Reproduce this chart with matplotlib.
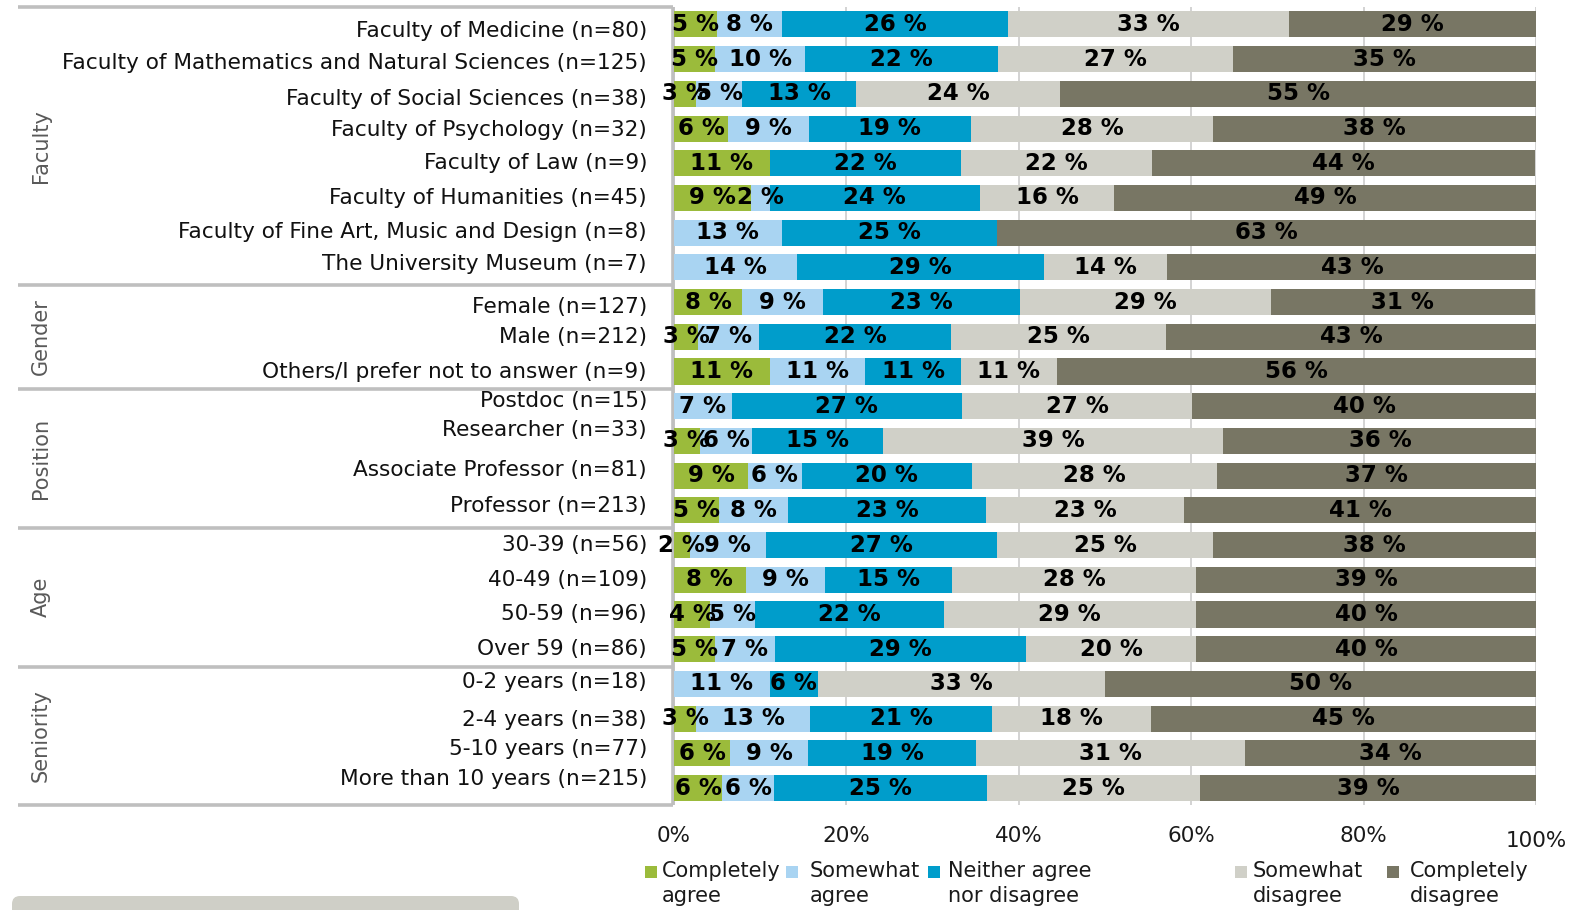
import math
import matplotlib
matplotlib.use("Agg")
import matplotlib.pyplot as plt
import matplotlib.transforms as mtransforms
from matplotlib.patches import Rectangle, FancyBboxPatch

plt.rcParams['font.family'] = ['DejaVu Sans']

# ---------------------------------------------------------------- data
groups = ["Faculty", "Gender", "Position", "Age", "Seniority"]
group_sizes = [8, 3, 4, 4, 4]

categories = [
    "Faculty of Medicine (n=80)",
    "Faculty of Mathematics and Natural Sciences (n=125)",
    "Faculty of Social Sciences (n=38)",
    "Faculty of Psychology (n=32)",
    "Faculty of Law (n=9)",
    "Faculty of Humanities (n=45)",
    "Faculty of Fine Art, Music and Design (n=8)",
    "The University Museum (n=7)",
    "Female (n=127)",
    "Male (n=212)",
    "Others/I prefer not to answer (n=9)",
    "Postdoc (n=15)",
    "Researcher (n=33)",
    "Associate Professor (n=81)",
    "Professor (n=213)",
    "30-39 (n=56)",
    "40-49 (n=109)",
    "50-59 (n=96)",
    "Over 59 (n=86)",
    "0-2 years (n=18)",
    "2-4 years (n=38)",
    "5-10 years (n=77)",
    "More than 10 years (n=215)",
]

series_names = ["Completely\nagree", "Somewhat\nagree", "Neither agree\nnor disagree",
                "Somewhat\ndisagree", "Completely\ndisagree"]
series_colors = ["#9BBB3B", "#A9D4F2", "#009DCB", "#D0D0C8", "#787664"]

completely_agree = [5.0, 4.8, 2.6, 6.25, 11.1, 8.9, 0, 0, 7.9, 2.8, 11.1, 0, 3.0, 8.6, 5.2,
                    1.8, 8.3, 4.2, 4.7, 0, 2.6, 6.49, 5.6]
somewhat_agree = [7.5, 10.4, 5.3, 9.4, 0, 2.2, 12.5, 14.3, 9.4, 7.1, 11.1, 6.7, 6.1, 6.2, 8.0,
                  8.9, 9.2, 5.2, 7.0, 11.1, 13.2, 9.09, 6.0]
neither = [26.3, 22.4, 13.2, 18.8, 22.2, 24.4, 25.0, 28.6, 22.8, 22.2, 11.1, 26.7, 15.2, 19.8, 23.0,
           26.8, 14.7, 21.9, 29.1, 5.6, 21.1, 19.48, 24.7]
somewhat_disagree = [32.5, 27.2, 23.7, 28.1, 22.2, 15.6, 0, 14.3, 29.1, 25.0, 11.1, 26.7, 39.4, 28.4, 23.0,
                     25.0, 28.4, 29.2, 19.8, 33.3, 18.4, 31.17, 24.7]
completely_disagree = [28.8, 35.2, 55.3, 37.5, 44.4, 48.9, 62.5, 42.9, 30.7, 42.9, 55.6, 40.0, 36.4, 37.0, 40.8,
                       37.5, 39.4, 39.6, 39.5, 50.0, 44.7, 33.77, 39.1]

series_values = [completely_agree, somewhat_agree, neither, somewhat_disagree, completely_disagree]
x_ticks = [0, 20, 40, 60, 80, 100]

# ---------------------------------------------------------------- layout
W, H = 1596, 910
fig = plt.figure(figsize=(W / 100, H / 100), dpi=100)
ax = fig.add_axes([674 / W, 1 - 805.4 / H, 862 / W, (805.4 - 7.05) / H])

n_rows = len(categories)
rows = list(range(n_rows))


def pct_label(v):
    return f"{int(math.floor(v + 0.5))} %"


left = [0.0] * n_rows
for vals, color in zip(series_values, series_colors):
    ax.barh(rows, vals, left=left, height=0.75, color=color, zorder=2)
    for r, (v, l) in enumerate(zip(vals, left)):
        if v > 0:
            ax.text(l + v / 2, r, pct_label(v), ha="center", va="center",
                    fontsize=16.5, fontweight="bold", color="black", zorder=3,
                    clip_on=False)
    left = [a + b for a, b in zip(left, vals)]

ax.set_xlim(0, 100)
ax.set_ylim(n_rows - 0.5, -0.5)
ax.set_yticks([])
ax.set_xticks(x_ticks)
ax.set_xticklabels([f"{t}%" for t in x_ticks], fontsize=15.5, color="#1a1a1a")
ax.tick_params(axis="x", length=0, pad=15)
# the last tick label sits a little lower than the others
last = ax.get_xticklabels()[-1]
last.set_transform(last.get_transform() +
                   mtransforms.ScaledTranslation(0, -0.05, fig.dpi_scale_trans))
for s in ax.spines.values():
    s.set_visible(False)
ax.xaxis.grid(True, color="#D0D0D0", lw=1.3, zorder=0)
ax.set_axisbelow(True)

# category labels, slightly nudged the way the source layout places them
label_nudge = [7, 4, 5, 1, 0, 0, -1, -3, 5, 0, 0, -5, -11, -6, -4, 0, 0, 0, 0, -2, 1, -4, -9]
blend = mtransforms.blended_transform_factory(fig.transFigure, ax.transData)
for r, (cat, dy) in enumerate(zip(categories, label_nudge)):
    tr = blend + mtransforms.ScaledTranslation(0, -dy / 100, fig.dpi_scale_trans)
    ax.text(647 / W, r, cat, transform=tr, ha="right", va="center",
            fontsize=15.6, color="#111111", clip_on=False)

# group frame and group titles
line_kw = dict(color="#BFBFBF", lw=2.6, transform=blend, clip_on=False, zorder=1,
               solid_capstyle="butt")
ax.plot([18 / W, 673 / W], [-0.5, -0.5], **line_kw)
start = 0
for g, size in zip(groups, group_sizes):
    end = start + size
    ax.plot([18 / W, 673 / W], [end - 0.5, end - 0.5], **line_kw)
    ax.text(41 / W, (start + end - 1) / 2, g, transform=blend, rotation=90,
            ha="center", va="center", fontsize=15, color="#595959", clip_on=False)
    start = end
ax.plot([673 / W, 673 / W], [-0.5, n_rows - 0.5], **line_kw)

# legend
sq_x = [645, 786, 928, 1235, 1387]
tx_x = [662, 810, 948, 1253, 1410]
for name, color, sx, tx in zip(series_names, series_colors, sq_x, tx_x):
    fig.add_artist(Rectangle((sx / W, 1 - 878 / H), 12 / W, 12 / H,
                             transform=fig.transFigure, color=color, lw=0))
    fig.text(tx / W, 1 - 861 / H, name, ha="left", va="top", fontsize=15,
             color="#1a1a1a", linespacing=1.3)

# note box at the lower left edge
fig.add_artist(FancyBboxPatch((12, -30), 507, 44,
                              boxstyle="round,pad=0,rounding_size=8",
                              transform=mtransforms.IdentityTransform(),
                              facecolor="#CFCFC7", edgecolor="none"))

fig.savefig("out.png", dpi=100)
